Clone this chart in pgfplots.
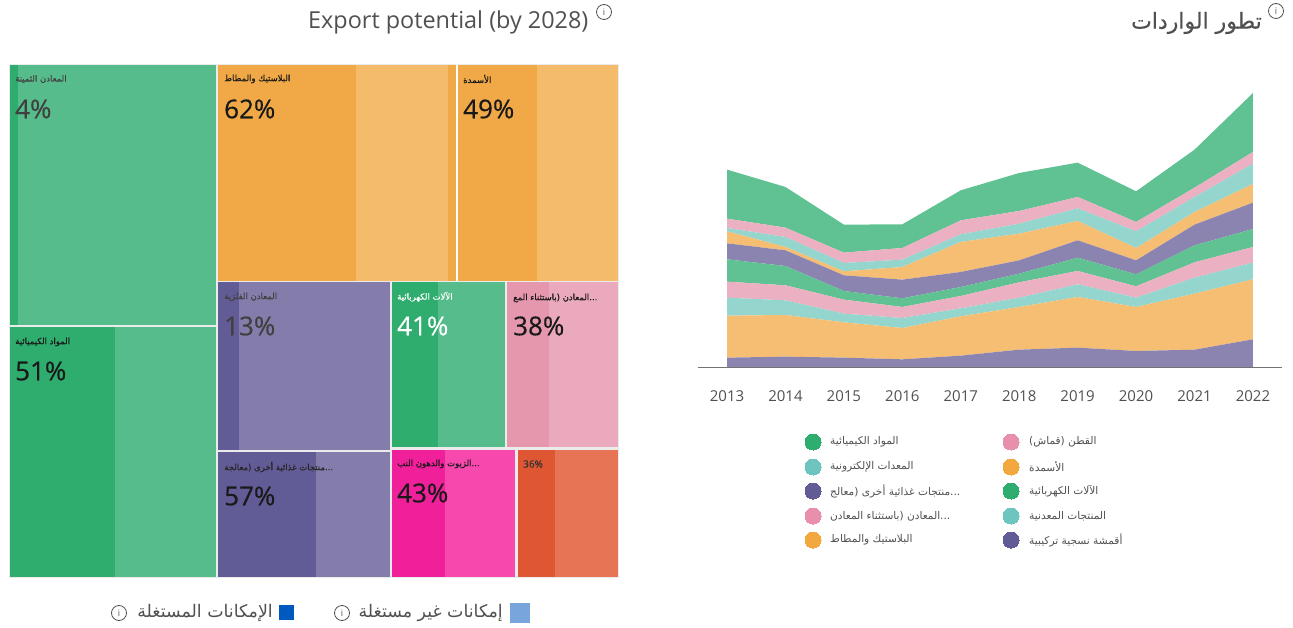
\documentclass[border=0pt]{standalone}
\usepackage{fontspec}
\usepackage{pgfplots}
\pgfplotsset{compat=1.18}
\setmainfont{Open Sans}
\TeXXeTstate=1
\newfontfamily\arabicfont[Script=Arabic]{DejaVu Sans}
\newfontfamily\arabicbold[Script=Arabic,FakeBold=0.5]{DejaVu Sans}
\newfontfamily\heavy[FakeBold=0.4]{Open Sans}

\definecolor{grnD}{HTML}{2EAD6E}
\definecolor{grnL}{HTML}{57BC8B}
\definecolor{orgD}{HTML}{F0A946}
\definecolor{orgL}{HTML}{F4BB6A}
\definecolor{purD}{HTML}{625C96}
\definecolor{purL}{HTML}{847CAB}
\definecolor{pnkD}{HTML}{E597AE}
\definecolor{pnkL}{HTML}{EBA9BE}
\definecolor{magD}{HTML}{F01F9A}
\definecolor{magL}{HTML}{F748AD}
\definecolor{redD}{HTML}{DF5632}
\definecolor{redL}{HTML}{E77555}
\definecolor{aGrn}{HTML}{60C192}
\definecolor{aPnk}{HTML}{EBB0C2}
\definecolor{aTel}{HTML}{94D5CE}
\definecolor{aOrg}{HTML}{F5BE73}
\definecolor{aPur}{HTML}{8B83B0}
\definecolor{dotTel}{HTML}{6EC5BF}
\definecolor{dotPnk}{HTML}{E88FAB}
\definecolor{dotOrg}{HTML}{F3A83F}
\definecolor{lgLight}{HTML}{78A6DC}
\definecolor{lgDark}{HTML}{0059BF}
\definecolor{txt}{HTML}{505050}

\newcommand{\fs}[1]{\fontsize{#1pt}{#1pt}\selectfont}
% one tile: x0 y0 x1 y1 colour, in picture pixels
\newcommand{\tile}[5]{\addplot[fill=#5,draw=none] coordinates {(#1,#2)(#3,#2)(#3,#4)(#1,#4)} --cycle;}
\newcommand{\lab}[3]{\node[anchor=west,inner sep=0pt,text=#3,font=\fs{8.5}\arabicbold] at (axis cs:#1) {#2};}
\newcommand{\pct}[3]{\node[anchor=west,inner sep=0pt,text=#3,font=\fs{26}\heavy] at (axis cs:#1) {#2};}
\newcommand{\info}[2]{\node[circle,draw=#2,line width=0.8pt,inner sep=0pt,minimum size=15pt,text=#2,font=\fs{9}] at (axis cs:#1) {i};}
\newcommand{\legdot}[2]{\addplot[#2,only marks,mark=*,mark size=8pt,mark options={draw=#2,fill=#2,line width=0pt}] coordinates {(#1)};}
\newcommand{\legtxt}[2]{\node[anchor=west,inner sep=0pt,text=txt,font=\fs{10.6}\arabicfont] at (axis cs:#1) {#2};}

\begin{document}
\begin{tikzpicture}[x=1pt,y=1pt]
\path[use as bounding box] (0,0) rectangle (1293,628);

% treemap, legends and titles, in picture pixels
\begin{axis}[
    at={(0,0)}, anchor=south west,
    scale only axis, width=1293pt, height=628pt,
    xmin=0, xmax=1293, ymin=0, ymax=628,
    y dir=reverse, hide axis, clip=false
]
\tile{9}{64}{619}{578}{black!8}
\tile{456}{64}{458}{281}{white}

\tile{10}{65}{18}{325}{grnD}
\tile{18}{65}{216}{325}{grnL}
\tile{10}{327}{115}{577}{grnD}
\tile{115}{327}{216}{577}{grnL}

\tile{218}{65}{356}{281}{orgD}
\tile{356}{65}{448}{281}{orgL}
\tile{448}{65}{456}{281}{orgD}
\tile{458}{65}{537}{281}{orgD}
\tile{537}{65}{618}{281}{orgL}

\tile{218}{282}{239}{449.5}{purD}
\tile{239}{282}{390}{449.5}{purL}
\tile{218}{451.5}{316}{577}{purD}
\tile{316}{451.5}{390}{577}{purL}

\tile{391.5}{282}{438}{447}{grnD}
\tile{438}{282}{505}{447}{grnL}
\tile{507}{282}{549}{447}{pnkD}
\tile{549}{282}{618}{447}{pnkL}

\tile{391.5}{449.5}{445}{577}{magD}
\tile{445}{449.5}{515}{577}{magL}
\tile{517.5}{449.5}{555}{577}{redD}
\tile{555}{449.5}{618}{577}{redL}

\lab{15,79}{\beginR المعادن الثمينة\endR}{black!75}
\pct{15,109}{4\%}{black!75}
\lab{224,79}{\beginR البلاستيك والمطاط\endR}{black!90}
\pct{224,109}{62\%}{black!90}
\lab{463,79}{\beginR الأسمدة\endR}{black!90}
\pct{463,109}{49\%}{black!90}
\lab{224,297}{\beginR المعادن الفلزية\endR}{black!75}
\pct{224,326}{13\%}{black!75}
\lab{397,297}{\beginR الآلات الكهربائية\endR}{white}
\pct{397,326}{41\%}{white}
\lab{513,298}{\beginR ...المعادن (باستثناء المع\endR}{black!90}
\pct{513,326}{38\%}{black!90}
\lab{15,342}{\beginR المواد الكيميائية\endR}{black!90}
\pct{15,371}{51\%}{black!90}
\lab{224,467}{\beginR ...منتجات غذائية أخرى (معالجة\endR}{black!85}
\pct{224,496}{57\%}{black!90}
\lab{397,464}{\beginR ...الزيوت والدهون النب\endR}{black!90}
\pct{397,493}{43\%}{black!90}
\node[anchor=west,inner sep=0pt,text=black!80,font=\fs{10}\heavy] at (axis cs:523,464) {36\%};

% titles
\node[anchor=west,inner sep=0pt,text=txt,font=\fs{23.4}] at (axis cs:308,22) {Export potential (by 2028)};
\info{604,12}{txt}
\node[anchor=east,inner sep=0pt,text=txt,font=\fs{22}\arabicbold] at (axis cs:1262,23) {\beginR تطور الواردات\endR};
\info{1276,11}{txt}

% legend under the treemap
\addplot[fill=lgLight,draw=none] coordinates {(510,603)(530,603)(530,623)(510,623)} --cycle;
\addplot[fill=lgDark,draw=none] coordinates {(279,605)(294,605)(294,620)(279,620)} --cycle;
\node[anchor=east,inner sep=0pt,text=txt,font=\fs{17.4}\arabicfont] at (axis cs:503,613) {\beginR إمكانات غير مستغلة\endR};
\node[anchor=east,inner sep=0pt,text=txt,font=\fs{17.4}\arabicfont] at (axis cs:273,613) {\beginR الإمكانات المستغلة\endR};
\info{342,613}{txt}
\info{119,613}{txt}

% legend under the area chart
\legdot{813,442}{grnD}
\legdot{813,467}{dotTel}
\legdot{813,491}{purD}
\legdot{813,516}{dotPnk}
\legdot{813,540}{dotOrg}
\legdot{1011,442}{dotPnk}
\legdot{1011,467}{dotOrg}
\legdot{1011,491}{grnD}
\legdot{1011,516}{dotTel}
\legdot{1011,540}{purD}
\legtxt{830,442}{\beginR المواد الكيميائية\endR}
\legtxt{830,467}{\beginR المعدات الإلكترونية\endR}
\legtxt{830,491}{\beginR ...منتجات غذائية أخرى (معالج\endR}
\legtxt{830,516}{\beginR ...المعادن (باستثناء المعادن\endR}
\legtxt{830,540}{\beginR البلاستيك والمطاط\endR}
\legtxt{1029,442}{\beginR القطن (قماش)\endR}
\legtxt{1029,467}{\beginR الأسمدة\endR}
\legtxt{1029,491}{\beginR الآلات الكهربائية\endR}
\legtxt{1029,516}{\beginR المنتجات المعدنية\endR}
\legtxt{1029,540}{\beginR أقمشة نسجية تركيبية\endR}
\end{axis}

% stacked area chart
\begin{axis}[
    at={(697.8pt,261pt)}, anchor=south west,
    scale only axis, width=584.4pt, height=286.7pt,
    xmin=2012.5, xmax=2022.5, ymin=0, ymax=860,
    stack plots=y, area style,
    axis x line=bottom, axis y line=none,
    axis line style={-,draw=black!55,line width=0.8pt},
    xtick={2013,...,2022}, major tick length=0pt,
    xticklabel style={/pgf/number format/1000 sep={},/pgf/number format/assume math mode=true,
        font=\fs{15},text=txt,yshift=-20pt}
]
\addplot[fill=aPur,draw=none] coordinates {(2013,28)(2014,31)(2015,28)(2016,23)(2017,34)(2018,52)(2019,58)(2020,48)(2021,52)(2022,83)} \closedcycle;
\addplot[fill=aOrg,draw=none] coordinates {(2013,126)(2014,125)(2015,106)(2016,94)(2017,118)(2018,128)(2019,152)(2020,132)(2021,168)(2022,180)} \closedcycle;
\addplot[fill=aTel,draw=none] coordinates {(2013,54)(2014,44)(2015,26)(2016,30)(2017,24)(2018,28)(2019,38)(2020,28)(2021,48)(2022,50)} \closedcycle;
\addplot[fill=aPnk,draw=none] coordinates {(2013,48)(2014,45)(2015,42)(2016,33)(2017,37)(2018,46)(2019,40)(2020,34)(2021,46)(2022,47)} \closedcycle;
\addplot[fill=aGrn,draw=none] coordinates {(2013,67)(2014,58)(2015,26)(2016,26)(2017,27)(2018,26)(2019,40)(2020,36)(2021,51)(2022,54)} \closedcycle;
\addplot[fill=aPur,draw=none] coordinates {(2013,48)(2014,47)(2015,47)(2016,56)(2017,45)(2018,40)(2019,52)(2020,42)(2021,62)(2022,79)} \closedcycle;
\addplot[fill=aOrg,draw=none] coordinates {(2013,36)(2014,10)(2015,12)(2016,38)(2017,90)(2018,80)(2019,58)(2020,37)(2021,38)(2022,56)} \closedcycle;
\addplot[fill=aTel,draw=none] coordinates {(2013,10)(2014,30)(2015,25)(2016,22)(2017,23)(2018,30)(2019,38)(2020,50)(2021,45)(2022,61)} \closedcycle;
\addplot[fill=aPnk,draw=none] coordinates {(2013,28)(2014,28)(2015,31)(2016,35)(2017,42)(2018,38)(2019,34)(2020,28)(2021,28)(2022,35)} \closedcycle;
\addplot[fill=aGrn,draw=none] coordinates {(2013,147)(2014,122)(2015,84)(2016,71)(2017,90)(2018,114)(2019,103)(2020,92)(2021,114)(2022,177)} \closedcycle;
\end{axis}
\end{tikzpicture}
\end{document}
